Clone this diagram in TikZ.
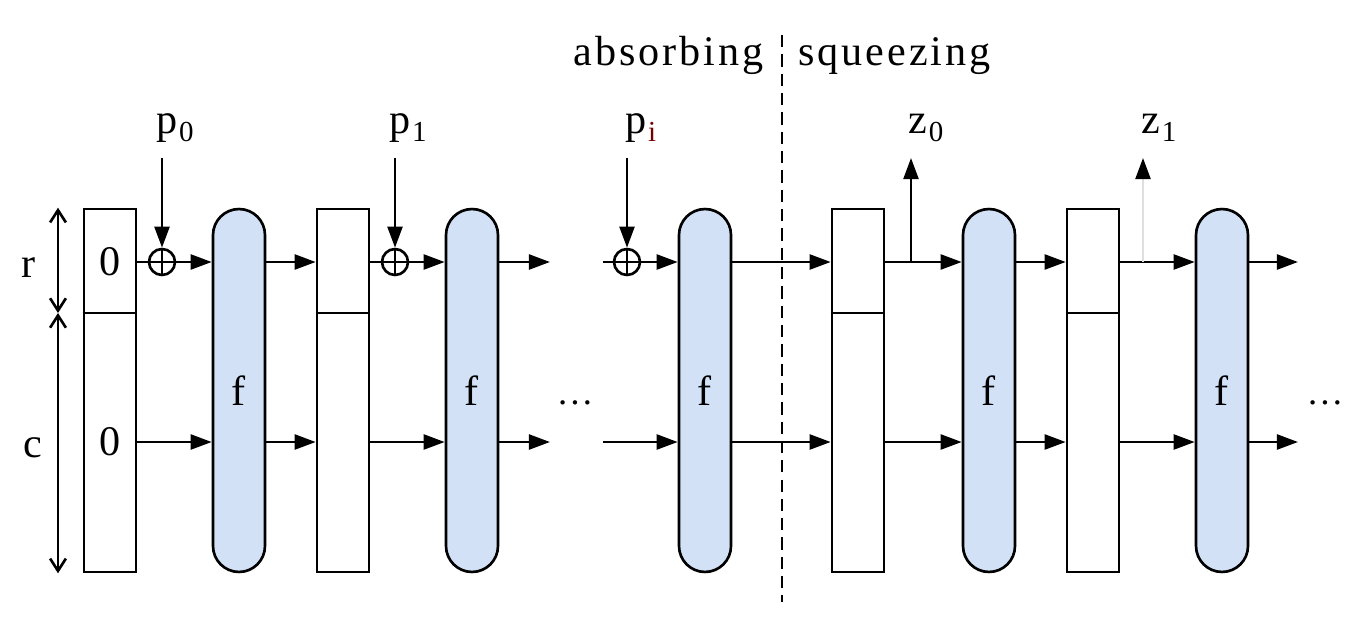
\documentclass[tikz,border=0pt]{standalone}
\usepackage{fontspec}
\setmainfont{Liberation Serif}
\newfontfamily\spacedfont[LetterSpace=7]{Liberation Serif}
\usetikzlibrary{arrows.meta}

\definecolor{fblue}{RGB}{210,225,246}
\newcommand\sub[1]{\kern1pt\raisebox{-5pt}{\fontsize{16.5}{16.5}\selectfont #1}}

\tikzset{
  state/.style={draw, minimum width=1.04cm, minimum height=7.26cm, inner sep=0pt},
  perm/.style={state, fill=fblue, rounded corners=0.52cm},
  xor/.style={draw, circle, minimum size=0.52cm, inner sep=0pt,
    path picture={\draw (path picture bounding box.north) -- (path picture bounding box.south)
                        (path picture bounding box.west) -- (path picture bounding box.east);}},
  flow/.style={-{Triangle[length=12pt,width=8.5pt]}},
  dim/.style={{Straight Barb[length=7pt,width=9pt]}-{Straight Barb[length=7pt,width=9pt]}},
  lbl/.style={inner sep=0pt, anchor=base west},
}

\begin{document}
\begin{tikzpicture}[x=0.02cm, y=-0.02cm, line width=1.5pt, font=\fontsize{24}{28}\selectfont]
\useasboundingbox (0,0) rectangle (1365,635);
\coordinate (rr) at (0,262);
\coordinate (cc) at (0,442);
\coordinate (sp) at (0,313);
\coordinate (dx) at (58,0);

% state blocks
\node[state] (s0) at (110,390.5) {};
\node[state] (s1) at (343,390.5) {};
\node[state] (s2) at (858,390.5) {};
\node[state] (s3) at (1093,390.5) {};
\foreach \s in {s0,s1,s2,s3}
  \draw (\s.west |- sp) -- (\s.east |- sp);
\node (zr) at (s0 |- rr) {0};
\node (zc) at (s0 |- cc) {0};

% permutations
\node[perm] (f0) at (239,390.5) {f};
\node[perm] (f1) at (472,390.5) {f};
\node[perm] (f2) at (705,390.5) {f};
\node[perm] (f3) at (989,390.5) {f};
\node[perm] (f4) at (1222,390.5) {f};

% r and c
\coordinate (d0) at (s0.north -| dx);
\coordinate (d1) at (sp -| dx);
\coordinate (d2) at (s0.south -| dx);
\draw[dim] (d0) -- (d1);
\draw[dim] (d1) -- (d2);
\node[inner sep=0pt, anchor=base] (lr) at (29,277) {r};
\node[inner sep=0pt, anchor=base] (lc) at (33,457) {c};

% absorbing
\node[xor] (x0) at (162,262) {};
\node[xor] (x1) at (395,262) {};
\node[xor] (x2) at (627,262) {};
\coordinate (p0) at (162,158);
\coordinate (p1) at (395,158);
\coordinate (pi) at (627,158);
\node[lbl] (lp0) at (155,133) {p\sub{0}};
\node[lbl] (lp1) at (388,133) {p\sub{1}};
\node[lbl] (lpi) at (624,133) {p\sub{\color{red!45!black}i}};
\foreach \p/\x in {p0/x0,p1/x1,pi/x2}
  \draw[flow] (\p) -- (\x);

\coordinate (o1r) at (550,262);
\coordinate (o1c) at (550,442);
\coordinate (i2r) at (603,262);
\coordinate (i2c) at (603,442);
\coordinate (o4r) at (1298,262);
\coordinate (o4c) at (1298,442);

\draw (s0.east |- rr) -- (x0.west);
\draw (s1.east |- rr) -- (x1.west);
\draw (i2r) -- (x2.west);
\draw[flow] (x0.east) -- (f0.west |- rr);
\draw[flow] (x1.east) -- (f1.west |- rr);
\draw[flow] (x2.east) -- (f2.west |- rr);
\foreach \a/\b in {f0/s1,f2/s2,s2/f3,f3/s3,s3/f4}
  \draw[flow] (\a.east |- rr) -- (\b.west |- rr);
\foreach \a/\b in {s0/f0,f0/s1,s1/f1,f2/s2,s2/f3,f3/s3,s3/f4}
  \draw[flow] (\a.east |- cc) -- (\b.west |- cc);
\draw[flow] (f1.east |- rr) -- (o1r);
\draw[flow] (f1.east |- cc) -- (o1c);
\draw[flow] (i2c) -- (f2.west |- cc);
\draw[flow] (f4.east |- rr) -- (o4r);
\draw[flow] (f4.east |- cc) -- (o4c);

\node (dots1) at (575,403) {\fontsize{21}{21}\selectfont\ldots};
\node (dots2) at (1325,403) {\fontsize{21}{21}\selectfont\ldots};

% squeezing
\coordinate (t0) at (911,262);
\coordinate (z0) at (911,158);
\coordinate (t1) at (1143,262);
\coordinate (z1) at (1143,158);
\draw[flow] (t0) -- (z0);
\draw[gray!25, -{Triangle[length=12pt,width=8.5pt,color=black]}] (t1) -- (z1);
\node[lbl] (lz0) at (907,133) {z\sub{0}};
\node[lbl] (lz1) at (1140,133) {z\sub{1}};

% phases
\draw[line width=1.3pt, dash pattern=on 7pt off 4pt] (782,35) -- (782,602);
\node[inner sep=0pt, anchor=base east] (labs) at (765,66) {\spacedfont absorbing};
\node[lbl] (lsq) at (797,66) {\spacedfont squeezing};
\end{tikzpicture}
\end{document}
